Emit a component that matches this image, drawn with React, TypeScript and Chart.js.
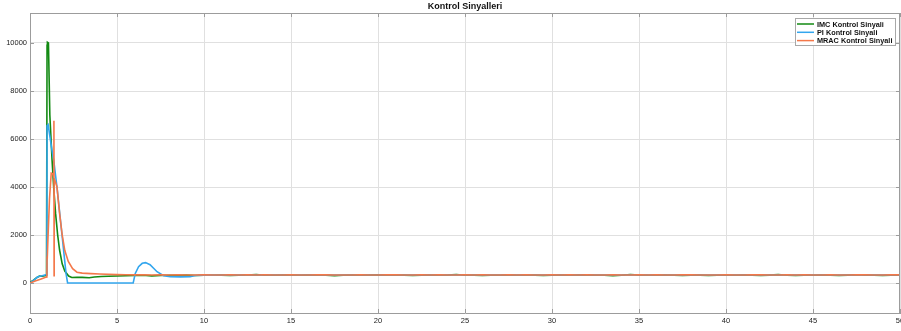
import React, { useEffect, useRef } from "react";
import { Chart, registerables } from "chart.js";

Chart.register(...registerables);

const FONT = '"Liberation Sans", Arial, Helvetica, sans-serif';

const TITLE = "Kontrol Sinyalleri";
const SERIES_NAMES = ["IMC Kontrol Sinyali", "PI Kontrol Sinyali", "MRAC Kontrol Sinyali"];
const SERIES_COLORS = ["#138a13", "#33a6ee", "#f4784a"];

const X_TICKS = [0, 5, 10, 15, 20, 25, 30, 35, 40, 45, 50];
const Y_TICKS = [0, 2000, 4000, 6000, 8000, 10000];

// Start-up transient (time in s, signal value)
const imcT = [0, 0.2, 0.4, 0.55, 0.7, 0.85, 0.95, 0.98, 1.0, 1.06, 1.14, 1.27, 1.36, 1.47, 1.59, 1.7, 1.85, 2.0, 2.22, 2.4, 2.7, 3.0, 3.4, 3.7, 4.1, 4.5, 5.0, 5.5];
const imcY = [20, 120, 230, 290, 280, 300, 320, 9900, 10030, 10000, 7000, 5100, 4000, 2900, 2000, 1375, 800, 500, 290, 230, 240, 235, 220, 250, 270, 280, 290, 300];

const piT = [0, 0.2, 0.45, 0.7, 0.95, 0.97, 0.98, 1.04, 1.26, 1.36, 1.55, 1.84, 2.07, 2.16, 5.93, 6.05, 6.24, 6.45, 6.64, 6.9, 7.3, 7.68, 8.06, 8.65, 9.2, 9.5, 10, 12, 15, 20, 25, 30, 35, 40, 45, 50];
const piY = [0, 110, 260, 300, 350, 1150, 6550, 6600, 5550, 5130, 4000, 2000, 400, 0, 0, 400, 680, 820, 850, 760, 470, 300, 260, 255, 265, 310, 330, 334, 336, 335, 336, 335, 336, 335, 336, 335];

const mracT = [0, 0.3, 0.6, 0.9, 0.97, 0.98, 0.99, 1.05, 1.12, 1.22, 1.3, 1.37, 1.375, 1.385, 1.39, 1.47, 1.55, 1.7, 1.85, 2.0, 2.2, 2.45, 2.7, 3.0, 3.5, 4.0, 5.0, 5.5];
const mracY = [0, 80, 160, 240, 250, 1100, 1000, 2200, 3500, 4580, 4560, 4400, 6760, 300, 4350, 4200, 4000, 2900, 2000, 1350, 900, 600, 450, 410, 390, 375, 350, 342];

// Steady-state samples every 0.5 s from t = 6 s to t = 50 s
const STEADY_START = 6;
const STEADY_STEP = 0.5;

const imcSteady = [
  315, 320, 295, 310, 325, 320, 330, 315, 325, 320,
  330, 315, 325, 335, 350, 325, 320, 330, 340, 325,
  335, 320, 330, 305, 325, 335, 320, 330, 340, 325,
  320, 330, 315, 325, 335, 320, 330, 355, 325, 330,
  315, 325, 320, 335, 325, 320, 330, 315, 325, 335,
  320, 330, 340, 320, 325, 305, 320, 355, 330, 325,
  320, 335, 325, 310, 320, 330, 315, 325, 330, 320,
  335, 325, 310, 330, 350, 325, 315, 330, 320, 335,
  325, 310, 330, 345, 320, 325, 315, 330, 320,
];

const mracSteady = [
  340, 338, 336, 337, 335, 338, 336, 334, 337, 335,
  336, 338, 334, 337, 335, 339, 336, 334, 338, 336,
  335, 337, 339, 335, 336, 334, 338, 336, 335, 337,
  339, 336, 334, 337, 335, 338, 336, 333, 337, 335,
  338, 336, 334, 337, 335, 339, 336, 334, 338, 335,
  337, 335, 339, 336, 334, 338, 336, 335, 337, 334,
  338, 336, 335, 337, 339, 335, 336, 334, 338, 336,
  335, 337, 339, 336, 334, 338, 335, 337, 336, 334,
  338, 336, 335, 337, 339, 335, 336, 338, 337,
];

type Pt = { x: number; y: number };

function toPoints(ts: number[], ys: number[]): Pt[] {
  return ts.map((t, i) => ({ x: t, y: ys[i] }));
}

function steadyPoints(ys: number[]): Pt[] {
  return ys.map((y, i) => ({ x: STEADY_START + i * STEADY_STEP, y }));
}

const AXIS_COLOR = "#9c9c9c";
const GRID_COLOR = "#e0e0e0";

// Box around the axes plus MATLAB-style inward tick marks
const framePlugin = {
  id: "frame",
  afterDraw(chart: any) {
    const { ctx, chartArea: a, scales } = chart;
    ctx.save();
    ctx.strokeStyle = AXIS_COLOR;
    ctx.lineWidth = 1;
    ctx.beginPath();
    ctx.moveTo(a.left, a.top + 0.5);
    ctx.lineTo(a.right, a.top + 0.5);
    ctx.moveTo(a.right - 0.5, a.top);
    ctx.lineTo(a.right - 0.5, a.bottom);
    const len = 4;
    for (const v of X_TICKS) {
      const px = Math.round(scales.x.getPixelForValue(v)) + 0.5;
      ctx.moveTo(px, a.bottom);
      ctx.lineTo(px, a.bottom - len);
      ctx.moveTo(px, a.top);
      ctx.lineTo(px, a.top + len);
    }
    for (const v of Y_TICKS) {
      const py = Math.round(scales.y.getPixelForValue(v)) + 0.5;
      ctx.moveTo(a.left, py);
      ctx.lineTo(a.left + len, py);
      ctx.moveTo(a.right, py);
      ctx.lineTo(a.right - len, py);
    }
    ctx.stroke();
    ctx.restore();
  },
};

const titlePlugin = {
  id: "plotTitle",
  afterDraw(chart: any) {
    const { ctx, chartArea: a } = chart;
    ctx.save();
    ctx.font = `bold 9px ${FONT}`;
    ctx.fillStyle = "#111111";
    ctx.textAlign = "center";
    ctx.textBaseline = "middle";
    ctx.fillText(TITLE, (a.left + a.right) / 2, 7);
    ctx.restore();
  },
};

const legendPlugin = {
  id: "boxLegend",
  afterDraw(chart: any) {
    const { ctx, chartArea: a } = chart;
    const w = 101;
    const h = 28;
    const x0 = a.right - 4 - w;
    const y0 = a.top + 5;
    ctx.save();
    ctx.fillStyle = "#ffffff";
    ctx.fillRect(x0, y0, w, h);
    ctx.strokeStyle = "#a8a8a8";
    ctx.lineWidth = 1;
    ctx.strokeRect(x0 + 0.5, y0 + 0.5, w - 1, h - 1);
    ctx.font = `bold 7.3px ${FONT}`;
    ctx.textBaseline = "middle";
    ctx.textAlign = "left";
    chart.data.datasets.forEach((ds: any, i: number) => {
      const y = y0 + 6 + i * 8.3;
      ctx.strokeStyle = ds.borderColor;
      ctx.lineWidth = 1.5;
      ctx.beginPath();
      ctx.moveTo(x0 + 2, y);
      ctx.lineTo(x0 + 19, y);
      ctx.stroke();
      ctx.fillStyle = "#111111";
      ctx.fillText(ds.label, x0 + 22, y + 0.5);
    });
    ctx.restore();
  },
};

export default function App() {
  const canvasRef = useRef<HTMLCanvasElement | null>(null);

  useEffect(() => {
    const canvas = canvasRef.current;
    if (!canvas) return;

    const lineStyle = {
      borderWidth: 1.6,
      pointRadius: 0,
      tension: 0,
      fill: false,
    };

    const chart = new Chart(canvas, {
      type: "line",
      data: {
        datasets: [
          {
            label: SERIES_NAMES[0],
            data: toPoints(imcT, imcY).concat(steadyPoints(imcSteady)),
            borderColor: SERIES_COLORS[0],
            order: 2,
            ...lineStyle,
          },
          {
            label: SERIES_NAMES[1],
            data: toPoints(piT, piY),
            borderColor: SERIES_COLORS[1],
            order: 1,
            ...lineStyle,
          },
          {
            label: SERIES_NAMES[2],
            data: toPoints(mracT, mracY).concat(steadyPoints(mracSteady)),
            borderColor: SERIES_COLORS[2],
            order: 0,
            ...lineStyle,
          },
        ],
      },
      options: {
        animation: false,
        responsive: false,
        devicePixelRatio: 1,
        parsing: false,
        normalized: true,
        events: [],
        layout: {
          autoPadding: false,
          padding: { top: 13, right: 1, left: 0, bottom: 0 },
        },
        plugins: {
          legend: { display: false },
          title: { display: false },
          tooltip: { enabled: false },
        },
        scales: {
          x: {
            type: "linear",
            min: 0,
            max: 50,
            afterBuildTicks: (s: any) => {
              s.ticks = X_TICKS.map((v) => ({ value: v }));
            },
            afterFit: (s: any) => {
              s.height = 18;
              s.paddingLeft = 0;
              s.paddingRight = 0;
            },
            grid: { color: GRID_COLOR, lineWidth: 1, drawTicks: false },
            border: { color: AXIS_COLOR, width: 1 },
            ticks: {
              autoSkip: false,
              maxRotation: 0,
              padding: 3,
              color: "#222222",
              font: { family: FONT, size: 7.5 },
              callback: (v: any) => String(v),
            },
          },
          y: {
            type: "linear",
            min: -1250,
            max: 11250,
            afterBuildTicks: (s: any) => {
              s.ticks = Y_TICKS.map((v) => ({ value: v }));
            },
            afterFit: (s: any) => {
              s.width = 30;
              s.paddingTop = 0;
              s.paddingBottom = 0;
            },
            grid: { color: GRID_COLOR, lineWidth: 1, drawTicks: false },
            border: { color: AXIS_COLOR, width: 1 },
            ticks: {
              autoSkip: false,
              padding: 3,
              color: "#222222",
              font: { family: FONT, size: 7.5 },
              callback: (v: any) => String(v),
            },
          },
        },
      },
      plugins: [framePlugin, legendPlugin, titlePlugin],
    } as any);

    return () => chart.destroy();
  }, []);

  return (
    <div style={{ position: "fixed", left: 0, top: 0, width: 901, height: 331, background: "#ffffff" }}>
      <canvas ref={canvasRef} width={901} height={331} style={{ width: 901, height: 331, display: "block" }} />
    </div>
  );
}
